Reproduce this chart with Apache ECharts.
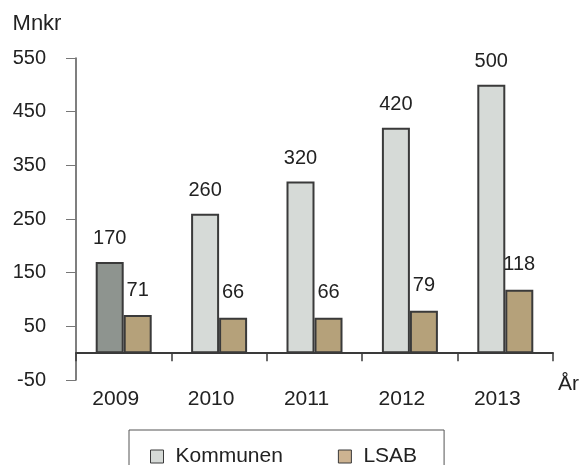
<!DOCTYPE html>
<html>
<head>
<meta charset="utf-8">
<script src="https://cdn.jsdelivr.net/npm/echarts@6/dist/echarts.min.js"></script>
<style>
  html, body { margin: 0; padding: 0; background: #fff; }
  #chart { width: 582px; height: 465px; }
</style>
</head>
<body>
<div id="chart"></div>
<script>
// data
var years = ['2009', '2010', '2011', '2012', '2013'];
var kommunen = [170, 260, 320, 420, 500];
var lsab = [71, 66, 66, 79, 118];

var chart = echarts.init(document.getElementById('chart'));
var font = 'Liberation Sans, Arial, sans-serif';
var edge = '#3a3a3a';

var kommunenData = kommunen.map(function (v, i) {
  // first bar is a darker grey in the original
  return i === 0 ? { value: v, itemStyle: { color: '#8e948f' } } : v;
});

chart.setOption({
  animation: false,
  textStyle: { fontFamily: font },
  grid: { left: 76, right: 29, top: 58, bottom: 85 },
  legend: {
    left: 129, top: 430,
    padding: [16, 27, 14, 21],
    borderColor: '#555', borderWidth: 1,
    icon: 'rect',
    itemWidth: 13, itemHeight: 13, itemGap: 55,
    textStyle: { fontSize: 21, color: '#222', fontFamily: font, padding: [0, 0, 0, 7] },
    data: [
      { name: 'Kommunen', itemStyle: { color: '#d6dad7', borderColor: edge, borderWidth: 1 } },
      { name: 'LSAB', itemStyle: { color: '#cdb391', borderColor: edge, borderWidth: 1 } }
    ]
  },
  xAxis: {
    type: 'category',
    data: years,
    name: 'År',
    nameLocation: 'end',
    nameGap: 5,
    nameTextStyle: { fontSize: 21, color: '#222', verticalAlign: 'top', lineHeight: 62 },
    axisLine: { onZero: true, lineStyle: { color: edge, width: 2 } },
    axisTick: { show: true, length: 8, lineStyle: { color: edge, width: 1.5 } },
    axisLabel: { fontSize: 21, color: '#222', margin: 9, padding: [0, 16, 0, 0] }
  },
  yAxis: {
    type: 'value',
    min: -50, max: 550, interval: 100,
    name: 'Mnkr',
    nameLocation: 'end',
    nameGap: 23,
    nameTextStyle: { fontSize: 22, color: '#222', padding: [0, 78, 0, 0] },
    axisLine: { show: true, lineStyle: { color: '#555', width: 1.5 } },
    axisTick: { show: true, length: 10, lineStyle: { color: '#777' } },
    axisLabel: { fontSize: 20, color: '#222', margin: 30 },
    splitLine: { show: false }
  },
  series: [
    {
      name: 'Kommunen', type: 'bar',
      data: kommunenData,
      barWidth: 28, barGap: '0%',
      itemStyle: { color: '#d6dad7', borderColor: edge, borderWidth: 2 },
      label: { show: true, position: 'top', distance: 13, fontSize: 20, color: '#222' }
    },
    {
      name: 'LSAB', type: 'bar',
      data: lsab,
      barWidth: 28,
      itemStyle: { color: '#b5a17a', borderColor: edge, borderWidth: 2 },
      label: { show: true, position: 'top', distance: 15, fontSize: 20, color: '#222' }
    }
  ]
});
</script>
</body>
</html>
